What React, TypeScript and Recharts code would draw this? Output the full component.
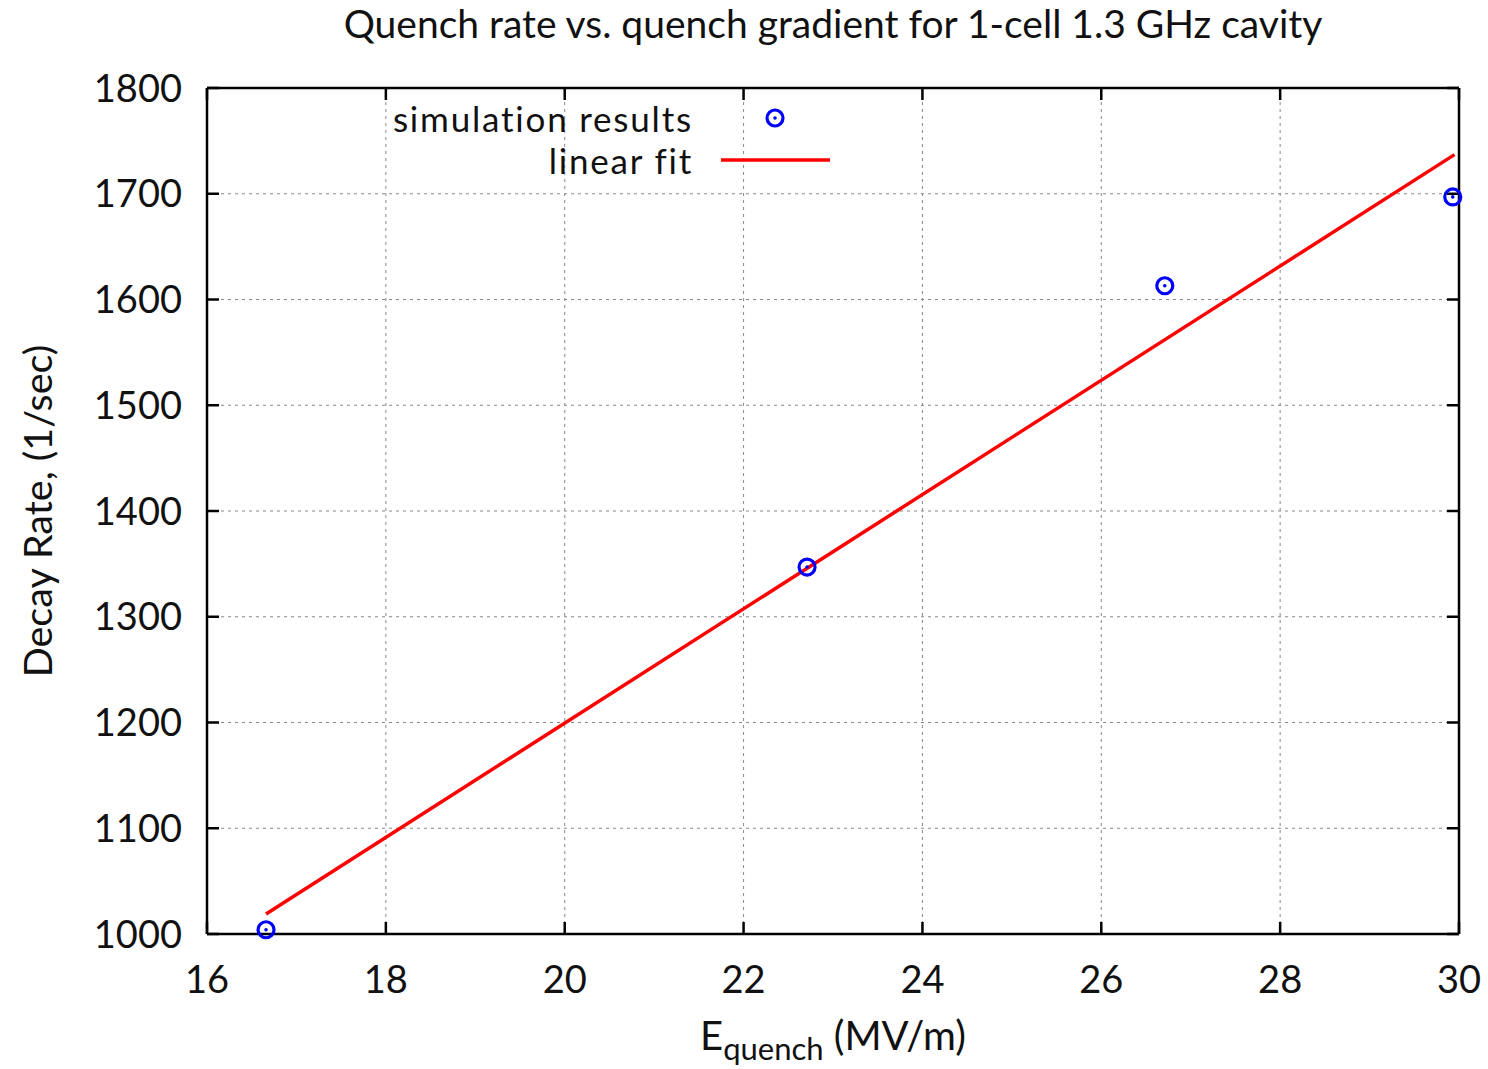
import React from 'react';
import {
  ComposedChart, Scatter, Line, XAxis, YAxis, CartesianGrid, Legend, Label,
} from 'recharts';

// Quench rate vs. quench gradient, 1-cell 1.3 GHz cavity
const xTicks = [16, 18, 20, 22, 24, 26, 28, 30];
const yTicks = [1000, 1100, 1200, 1300, 1400, 1500, 1600, 1700, 1800];

const simGradient = [16.66, 22.71, 26.71, 29.93];
const simRate = [1004, 1347, 1613, 1697];

const fitGradient = [16.66, 29.95];
const fitRate = [1019, 1737];

const simData = simGradient.map((x, i) => ({ x, y: simRate[i] }));
const fitData = fitGradient.map((x, i) => ({ x, y: fitRate[i] }));

const FONT = 'Lato, "Open Sans", sans-serif';
const BLUE = '#0000ff';
const RED = '#ff0000';
const TICK_LEN = 12;

const RingDot = (props: any) => {
  const { cx, cy } = props;
  return (
    <g>
      <circle cx={cx} cy={cy} r={8} fill="none" stroke={BLUE} strokeWidth={3.2} />
      <circle cx={cx} cy={cy} r={1.8} fill={BLUE} />
    </g>
  );
};

// grid line + inward tick marks at both ends (gnuplot style, mirrored ticks)
const HGrid = (props: any) => {
  const { x1, x2, y1, y2 } = props;
  return (
    <g key={props.key}>
      <line x1={x1} y1={y1} x2={x2} y2={y2} stroke="#888" strokeWidth={1} strokeDasharray="3 4" />
      <line x1={x1} y1={y1} x2={x1 + TICK_LEN} y2={y1} stroke="#000" strokeWidth={2.5} />
      <line x1={x2 - TICK_LEN} y1={y2} x2={x2} y2={y2} stroke="#000" strokeWidth={2.5} />
    </g>
  );
};

const VGrid = (props: any) => {
  const { x1, x2, y1, y2 } = props;
  const top = Math.min(y1, y2);
  const bottom = Math.max(y1, y2);
  return (
    <g key={props.key}>
      <line x1={x1} y1={y1} x2={x2} y2={y2} stroke="#888" strokeWidth={1} strokeDasharray="3 4" />
      <line x1={x1} y1={top} x2={x1} y2={top + TICK_LEN} stroke="#000" strokeWidth={2.5} />
      <line x1={x2} y1={bottom - TICK_LEN} x2={x2} y2={bottom} stroke="#000" strokeWidth={2.5} />
    </g>
  );
};

const BottomTick = (props: any) => {
  const { x, y, payload } = props;
  return (
    <text x={x} y={y} dy="0.75em" textAnchor="middle" fontFamily={FONT} fontSize={38} fill="#111">
      {payload.value}
    </text>
  );
};

const LeftTick = (props: any) => {
  const { x, y, payload } = props;
  return (
    <text x={x} y={y} dy="0.36em" textAnchor="end" fontFamily={FONT} fontSize={38} fill="#111">
      {payload.value}
    </text>
  );
};

const XTitle = (props: any) => {
  const { viewBox } = props;
  const cx = viewBox.x + viewBox.width / 2;
  const y = viewBox.y + 116;
  return (
    <text x={cx} y={y} textAnchor="middle" fontFamily={FONT} fontSize={40} fill="#111">
      <tspan>E</tspan>
      <tspan dy={10} fontSize={31}>quench</tspan>
      <tspan dy={-10}> (MV/m)</tspan>
    </text>
  );
};

const YTitle = () => (
  <text
    x={36} y={511} textAnchor="middle" fontFamily={FONT} fontSize={39.5} fill="#111"
    transform="rotate(-90 36 511)" dominantBaseline="central"
  >
    Decay Rate, (1/sec)
  </text>
);

const rowStyle: React.CSSProperties = { display: 'flex', alignItems: 'center', height: 42 };
const textStyle: React.CSSProperties = {
  width: 313, textAlign: 'right', whiteSpace: 'nowrap', lineHeight: '42px', letterSpacing: 1.8,
};

const LegendBox = () => (
  <div style={{ fontFamily: FONT, fontSize: 35, color: '#111', width: 460, fontVariantLigatures: 'none' }}>
    <div style={rowStyle}>
      <span style={textStyle}>simulation results</span>
      <svg width={147} height={42}>
        <circle cx={82} cy={21} r={8} fill="none" stroke={BLUE} strokeWidth={3.2} />
        <circle cx={82} cy={21} r={1.8} fill={BLUE} />
      </svg>
    </div>
    <div style={rowStyle}>
      <span style={textStyle}>linear fit</span>
      <svg width={147} height={42}>
        <line x1={28} y1={21} x2={137} y2={21} stroke={RED} strokeWidth={3.5} />
      </svg>
    </div>
  </div>
);

const App: React.FC = () => {
  const axisLine = { stroke: '#000', strokeWidth: 2.5 };
  return (
    <div style={{ position: 'absolute', left: 0, top: 0, width: 1488, height: 1069, background: '#fff' }}>
      <div
        style={{
          position: 'absolute', top: 0, left: 207, width: 1252, textAlign: 'center',
          fontFamily: FONT, fontSize: 39, color: '#111', whiteSpace: 'nowrap',
        }}
      >
        Quench rate vs. quench gradient for 1-cell 1.3 GHz cavity
      </div>
      <ComposedChart
        width={1488}
        height={1069}
        margin={{ top: 87, right: 28, bottom: 134, left: 206 }}
      >
        <CartesianGrid horizontal={HGrid} vertical={VGrid} />
        <XAxis
          dataKey="x" type="number" domain={[16, 30]} ticks={xTicks}
          height={1} tickSize={0} tickMargin={30} tick={<BottomTick />}
          axisLine={axisLine} tickLine={false} interval={0}
          label={<Label content={<XTitle />} />}
        />
        <XAxis
          xAxisId="top" orientation="top" dataKey="x" type="number" domain={[16, 30]} ticks={xTicks}
          height={1} tick={false} axisLine={axisLine} tickLine={false}
        />
        <YAxis
          dataKey="y" type="number" domain={[1000, 1800]} ticks={yTicks}
          width={1} tickSize={0} tickMargin={25} tick={<LeftTick />}
          axisLine={axisLine} tickLine={false} interval={0}
          label={<Label content={<YTitle />} />}
        />
        <YAxis
          yAxisId="right" orientation="right" dataKey="y" type="number" domain={[1000, 1800]} ticks={yTicks}
          width={1} tick={false} axisLine={axisLine} tickLine={false}
        />
        <Legend
          layout="vertical" align="center" verticalAlign="middle"
          content={<LegendBox />}
          wrapperStyle={{ top: 97, left: 380, width: 460 }}
        />
        <Line
          data={fitData} dataKey="y" type="linear" stroke={RED} strokeWidth={3.5}
          dot={false} activeDot={false} isAnimationActive={false}
        />
        <Scatter data={simData} dataKey="y" shape={<RingDot />} isAnimationActive={false} />
      </ComposedChart>
    </div>
  );
};

export default App;
